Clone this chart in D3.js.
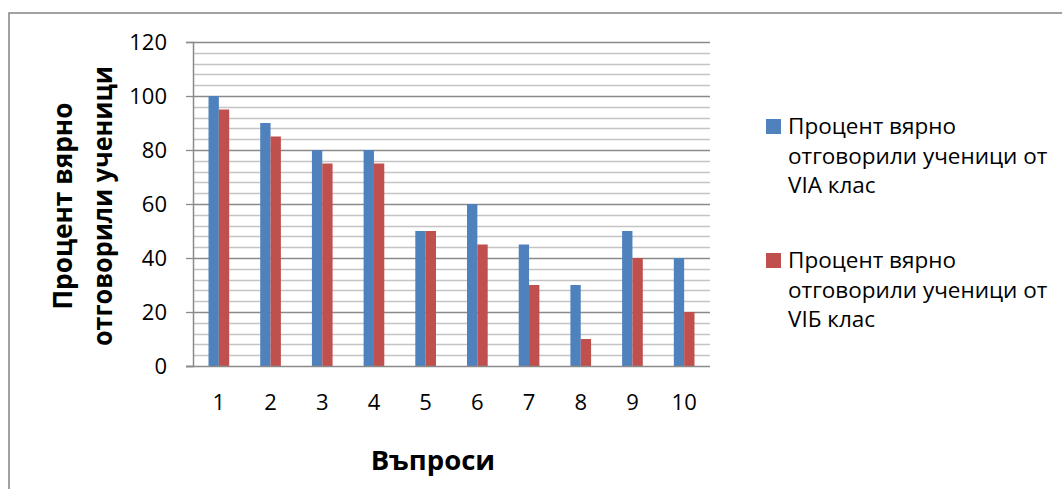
<!DOCTYPE html>
<html>
<head>
<meta charset="utf-8">
<script src="https://cdn.jsdelivr.net/npm/d3@7"></script>
<style>
  html, body { margin: 0; padding: 0; background: #fff; }
  svg { display: block; }
  text { font-family: "Open Sans", "Noto Sans", sans-serif; fill: #000; }
</style>
</head>
<body>
<svg id="chart" width="1062" height="489"></svg>
<script>
// Questions and the share of correct answers per class
const questions = ["1", "2", "3", "4", "5", "6", "7", "8", "9", "10"];
const seriesNames = [
  ["Процент вярно", "отговорили ученици от", "VIA клас"],
  ["Процент вярно", "отговорили ученици от", "VIБ клас"]
];
const classA = [100, 90, 80, 80, 50, 60, 45, 30, 50, 40];
const classB = [95, 85, 75, 75, 50, 45, 30, 10, 40, 20];
const yTicks = [0, 20, 40, 60, 80, 100, 120];
const minorStep = 4;
const colors = ["#4F81BD", "#C0504D"];

const svg = d3.select("#chart");

// outer chart frame
svg.append("rect")
  .attr("x", 9).attr("y", 13)
  .attr("width", 1200).attr("height", 600)
  .attr("fill", "#fff")
  .attr("stroke", "#8a8a8a").attr("stroke-width", 1.6);

const plot = { left: 193, right: 710, top: 42, bottom: 366 };

const x = d3.scaleBand()
  .domain(questions)
  .range([plot.left, plot.right])
  .paddingInner(0.6)
  .paddingOuter(0.3);

const xs = d3.scaleBand()
  .domain([0, 1])
  .range([0, x.bandwidth()]);

const y = d3.scaleLinear()
  .domain([0, 120])
  .range([plot.bottom, plot.top]);

// minor gridlines
const minorVals = d3.range(0, 120 + 0.001, minorStep).filter(v => v % 20 !== 0);
svg.append("g")
  .selectAll("line")
  .data(minorVals)
  .join("line")
  .attr("x1", plot.left).attr("x2", plot.right)
  .attr("y1", d => Math.round(y(d)) + 0.5).attr("y2", d => Math.round(y(d)) + 0.5)
  .attr("stroke", "#c4c4c4").attr("stroke-width", 1.3);

// major gridlines
svg.append("g")
  .selectAll("line")
  .data(yTicks.filter(v => v > 0))
  .join("line")
  .attr("x1", plot.left).attr("x2", plot.right)
  .attr("y1", d => Math.round(y(d)) + 0.5).attr("y2", d => Math.round(y(d)) + 0.5)
  .attr("stroke", "#8a8a8a").attr("stroke-width", 1.3);

// bars
const rows = questions.map((q, i) => ({ q, vals: [classA[i], classB[i]] }));
svg.append("g")
  .selectAll("g")
  .data(rows)
  .join("g")
  .attr("transform", d => `translate(${x(d.q)},0)`)
  .selectAll("rect")
  .data(d => d.vals.map((v, k) => ({ v, k })))
  .join("rect")
  .attr("x", d => xs(d.k))
  .attr("width", xs.bandwidth())
  .attr("y", d => y(d.v))
  .attr("height", d => y(0) - y(d.v))
  .attr("fill", d => colors[d.k]);

// y axis
const yAxis = d3.axisLeft(y).tickValues(yTicks).tickSize(7).tickPadding(19);
const gy = svg.append("g").attr("transform", `translate(${plot.left},0)`).call(yAxis);
gy.select(".domain").attr("stroke", "#8a8a8a").attr("stroke-width", 1.5);
gy.selectAll(".tick line").attr("stroke", "#8a8a8a").attr("stroke-width", 1.3);
gy.selectAll(".tick text")
  .attr("font-family", "'Open Sans', sans-serif")
  .attr("font-size", 22).attr("fill", "#000").attr("dy", "0.36em");

// x axis
const xAxis = d3.axisBottom(x).tickSize(0).tickPadding(28);
const gx = svg.append("g").attr("transform", `translate(0,${plot.bottom})`).call(xAxis);
gx.select(".domain").remove();
gx.append("line")
  .attr("x1", plot.left - 7).attr("x2", plot.right)
  .attr("y1", 0.5).attr("y2", 0.5)
  .attr("stroke", "#8a8a8a").attr("stroke-width", 1.5);
gx.selectAll(".tick text")
  .attr("font-family", "'Open Sans', sans-serif")
  .attr("font-size", 22).attr("fill", "#000");

// axis titles
svg.append("text")
  .attr("x", 433).attr("y", 470)
  .attr("text-anchor", "middle")
  .attr("font-size", 27.5).attr("font-weight", "bold")
  .text("Въпроси");

const yTitle = svg.append("g").attr("transform", "translate(0,206) rotate(-90)");
[["Процент вярно", 72, 207], ["отговорили ученици", 112, 280]].forEach(([t, bx, len]) => {
  yTitle.append("text")
    .attr("x", 0).attr("y", bx)
    .attr("text-anchor", "middle")
    .attr("font-size", 27).attr("font-weight", "bold")
    .attr("textLength", len).attr("lengthAdjust", "spacingAndGlyphs")
    .text(t);
});

// legend
const legend = svg.append("g");
[119, 253].forEach((top, k) => {
  legend.append("rect")
    .attr("x", 766).attr("y", top)
    .attr("width", 15).attr("height", 15)
    .attr("fill", colors[k]);
  seriesNames[k].forEach((line, j) => {
    legend.append("text")
      .attr("x", 788).attr("y", top + 15 + j * 29.5)
      .attr("font-size", 22.5)
      .text(line);
  });
});
</script>
</body>
</html>
